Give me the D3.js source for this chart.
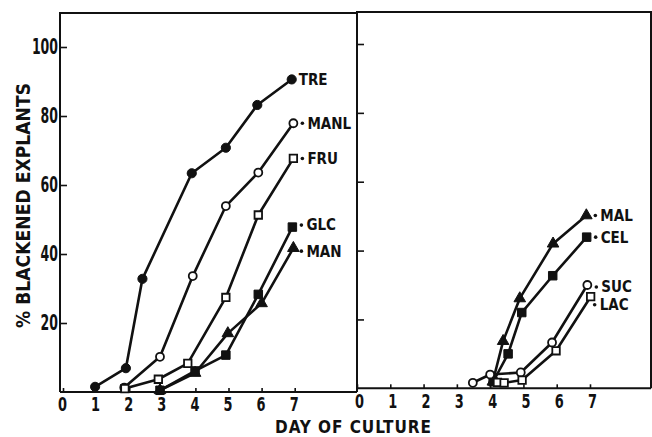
<!DOCTYPE html>
<html>
<head>
<meta charset="utf-8">
<script src="https://cdn.jsdelivr.net/npm/d3@7"></script>
<style>
body { margin: 0; background: #fff; }
text { font-family: "DejaVu Sans Condensed", "DejaVu Sans", sans-serif; font-weight: bold; fill: #111; }
</style>
</head>
<body>
<svg width="652" height="437"></svg>
<script>
// left panel series (day, % blackened)
var treDays  = [0.97, 1.9, 2.4, 3.89, 4.92, 5.87, 6.91],
    treVals  = [1.5, 6.9, 32.8, 63.4, 70.8, 83.2, 90.6];
var manlDays = [1.85, 2.93, 3.92, 4.92, 5.9, 6.96],
    manlVals = [1.3, 10.2, 33.6, 53.9, 63.6, 77.9];
var fruDays  = [1.87, 2.88, 3.77, 4.92, 5.9, 6.96],
    fruVals  = [1.0, 3.7, 8.3, 27.4, 51.3, 67.7];
var glcDays  = [2.93, 3.99, 4.92, 5.9, 6.93],
    glcVals  = [0.5, 6.1, 10.7, 28.3, 47.8];
var manDays  = [2.93, 3.99, 4.98, 6.0, 6.96],
    manVals  = [0.5, 5.5, 17.0, 25.7, 41.7];

// right panel series
var malDays = [4.08, 4.39, 4.89, 5.89, 6.89],
    malVals = [1.9, 13.7, 26.1, 42.0, 50.2];
var celDays = [4.09, 4.54, 4.95, 5.88, 6.9],
    celVals = [1.9, 10.0, 22.0, 32.7, 43.9];
var sucDays = [3.48, 4.0, 4.92, 5.86, 6.92],
    sucVals = [1.6, 4.0, 4.6, 13.3, 30.0];
var lacDays = [4.22, 4.42, 4.96, 5.98, 7.02],
    lacVals = [1.7, 1.6, 2.4, 10.9, 26.6];

var dayTicks = [0, 1, 2, 3, 4, 5, 6, 7];
var pctTicks = [20, 40, 60, 80, 100];

var leftSeries = [
    {name: "TRE",  mark: "fcircle",   days: treDays,  vals: treVals},
    {name: "MANL", mark: "ocircle",   days: manlDays, vals: manlVals},
    {name: "FRU",  mark: "osquare",   days: fruDays,  vals: fruVals},
    {name: "GLC",  mark: "fsquare",   days: glcDays,  vals: glcVals},
    {name: "MAN",  mark: "ftriangle", days: manDays,  vals: manVals}
];
var rightSeries = [
    {name: "MAL", mark: "ftriangle", days: malDays, vals: malVals},
    {name: "CEL", mark: "fsquare",   days: celDays, vals: celVals},
    {name: "SUC", mark: "ocircle",   days: sucDays, vals: sucVals},
    {name: "LAC", mark: "osquare",   days: lacDays, vals: lacVals}
];

var svg = d3.select("svg");
var ink = "#111";

// label nudges [dx of dot, dy]
var nudge = {GLC: [0, -2], MAN: [-1, 3], SUC: [0, 2], LAC: [-5, 8]};

function symbolFor(m) {
    if (m == "fcircle")  return d3.symbol().type(d3.symbolCircle).size(66)();
    if (m == "ocircle")  return d3.symbol().type(d3.symbolCircle).size(50)();
    if (m == "osquare")  return d3.symbol().type(d3.symbolSquare).size(56)();
    if (m == "fsquare")  return d3.symbol().type(d3.symbolSquare).size(72)();
    return d3.symbol().type(d3.symbolTriangle).size(58)();
}

function panel(p) {
    var x = d3.scaleLinear().domain([0, 7]).range(p.xr);
    var y = d3.scaleLinear().domain([0, 100]).range(p.yr);
    var g = svg.append("g");

    // frame
    g.append("path")
        .attr("d", "M" + p.x0 + "," + p.base + "V" + p.top + "H" + p.x1 + "V" + p.base)
        .attr("fill", "none").attr("stroke", ink).attr("stroke-width", 2);
    g.append("line")
        .attr("x1", p.x0).attr("x2", p.x1).attr("y1", p.base).attr("y2", p.base)
        .attr("stroke", ink).attr("stroke-width", 2);

    // x axis
    var xa = g.append("g").attr("transform", "translate(0," + p.base + ")")
        .call(d3.axisBottom(x).tickValues(dayTicks).tickFormat(d3.format("d"))
            .tickSize(-4).tickPadding(6));
    xa.select(".domain").remove();
    xa.selectAll("line").attr("stroke", ink).attr("stroke-width", 1.6);
    xa.selectAll("text")
        .attr("font-size", 19)
        .attr("x", p.labelShift)
        .attr("textLength", 9).attr("lengthAdjust", "spacingAndGlyphs")
        .attr("fill", ink);

    // y axis
    var ya = g.append("g").attr("transform", "translate(" + p.x0 + ",0)")
        .call(d3.axisLeft(y).tickValues(pctTicks).tickSize(-7).tickPadding(2)
            .tickFormat(p.yLabels ? d3.format("d") : ""));
    ya.select(".domain").remove();
    ya.selectAll("line").attr("stroke", ink).attr("stroke-width", 1.6);
    ya.selectAll("text")
        .attr("font-size", 21)
        .attr("textLength", function(d) { return String(d).length * 8.7; })
        .attr("lengthAdjust", "spacingAndGlyphs")
        .attr("fill", ink);
    svg.selectAll(".tick text").style("font-family", null);

    var line = d3.line()
        .x(function(d) { return x(d[0]); })
        .y(function(d) { return y(d[1]); });

    p.series.forEach(function(s) {
        var pts = d3.zip(s.days, s.vals);
        g.append("path").datum(pts)
            .attr("d", line)
            .attr("fill", "none").attr("stroke", ink)
            .attr("stroke-width", 2.6).attr("stroke-linejoin", "round");
    });

    p.series.forEach(function(s) {
        var pts = d3.zip(s.days, s.vals);
        var open = s.mark.charAt(0) == "o";
        g.selectAll(null).data(pts).enter().append("path")
            .attr("d", symbolFor(s.mark))
            .attr("transform", function(d) { return "translate(" + x(d[0]) + "," + y(d[1]) + ")"; })
            .attr("fill", open ? "#fff" : ink)
            .attr("stroke", ink).attr("stroke-width", open ? 1.8 : 1);

        // end label
        var last = pts[pts.length - 1];
        var lx = x(last[0]), ly = y(last[1]);
        var n = nudge[s.name] || [0, 0];
        if (s.name == "TRE") {
            g.append("text").attr("x", lx + 7).attr("y", ly)
                .attr("dy", "0.36em").attr("font-size", 15).text(s.name);
        } else {
            g.append("circle").attr("cx", lx + 9 + n[0]).attr("cy", ly + n[1])
                .attr("r", 1.8).attr("fill", ink);
            g.append("text").attr("x", lx + 14 + n[0]).attr("y", ly + n[1])
                .attr("dy", "0.36em").attr("font-size", 15).text(s.name);
        }
    });
}

panel({x0: 60, x1: 357, top: 13, base: 392, xr: [63, 294.7], yr: [392, 47],
       yLabels: true, labelShift: -1, series: leftSeries});
panel({x0: 357, x1: 651, top: 12, base: 388.3, xr: [357, 590], yr: [388.3, 44],
       yLabels: false, labelShift: 2, series: rightSeries});

// axis titles
svg.append("text")
    .attr("x", 275).attr("y", 433)
    .attr("font-size", 17)
    .attr("textLength", 156)
    .text("DAY OF CULTURE");

svg.append("text")
    .attr("transform", "translate(30,328) rotate(-90)")
    .attr("x", 0).attr("y", 0)
    .attr("font-size", 19)
    .attr("textLength", 245)
    .text("% BLACKENED EXPLANTS");
</script>
</body>
</html>
